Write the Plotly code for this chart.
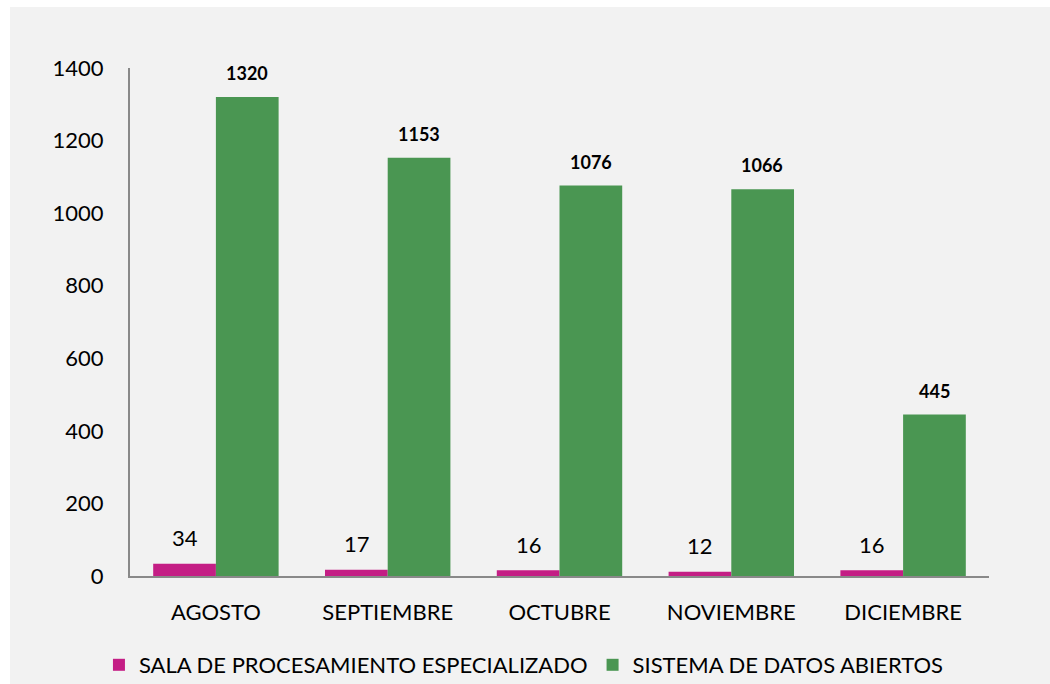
import plotly.graph_objects as go

meses = ["AGOSTO", "SEPTIEMBRE", "OCTUBRE", "NOVIEMBRE", "DICIEMBRE"]
sala = [34, 17, 16, 12, 16]
sistema = [1320, 1153, 1076, 1066, 445]
serie_sala = "SALA DE PROCESAMIENTO ESPECIALIZADO"
serie_sistema = "SISTEMA DE DATOS ABIERTOS"
y_ticks = [0, 200, 400, 600, 800, 1000, 1200, 1400]

FONT = "Lato, 'Open Sans', sans-serif"
PINK = "#C41E85"
GREEN = "#4A9652"
BG = "#F2F2F2"

fig = go.Figure()
fig.add_trace(go.Bar(x=meses, y=sala, name=serie_sala, marker_color=PINK,
                     marker_line_width=0))
fig.add_trace(go.Bar(x=meses, y=sistema, name=serie_sistema, marker_color=GREEN,
                     marker_line_width=0))

annotations = []
for m, v in zip(meses, sala):
    annotations.append(dict(x=m, y=v, xref="x", yref="y", text=str(v), showarrow=False,
                            xshift=-31, yshift=26, font=dict(family=FONT, size=22, color="#000")))
for m, v in zip(meses, sistema):
    annotations.append(dict(x=m, y=v, xref="x", yref="y", text=f"<b>{v}</b>", showarrow=False,
                            xshift=31, yshift=24, font=dict(family=FONT, size=18, color="#000")))

fig.update_layout(
    width=1050, height=684,
    margin=dict(l=130, r=61, t=68, b=108, autoexpand=False),
    paper_bgcolor="white",
    plot_bgcolor=BG,
    barmode="group",
    bargap=0.27,
    bargroupgap=0,
    font=dict(family=FONT, size=22, color="#000"),
    showlegend=True,
    legend=dict(orientation="h", xref="container", x=0.499, xanchor="center",
                yref="container", y=(684 - 665) / 684, yanchor="middle",
                font=dict(family=FONT, size=22, color="#000"), bgcolor="rgba(0,0,0,0)",
                traceorder="normal"),
    annotations=annotations,
    shapes=[dict(type="rect", xref="paper", yref="paper", x0=-0.1397, x1=1.08,
                 y0=-0.25, y1=1.12, fillcolor=BG, line_width=0, layer="below")],
)
fig.update_xaxes(showline=True, linecolor="#898989", linewidth=2, showgrid=False,
                 ticks="outside", ticklen=16, tickcolor="rgba(0,0,0,0)",
                 tickfont=dict(family=FONT, size=22), automargin=False)
fig.update_yaxes(range=[0, 1400], tickvals=y_ticks, showline=True, linecolor="#898989",
                 linewidth=2, showgrid=False, zeroline=False,
                 ticks="outside", ticklen=20, tickcolor="rgba(0,0,0,0)",
                 tickfont=dict(family=FONT, size=22), automargin=False)

fig.write_html("out.html", config={"displayModeBar": False},
               post_script="document.body.style.margin='0';document.body.style.overflow='hidden';")
